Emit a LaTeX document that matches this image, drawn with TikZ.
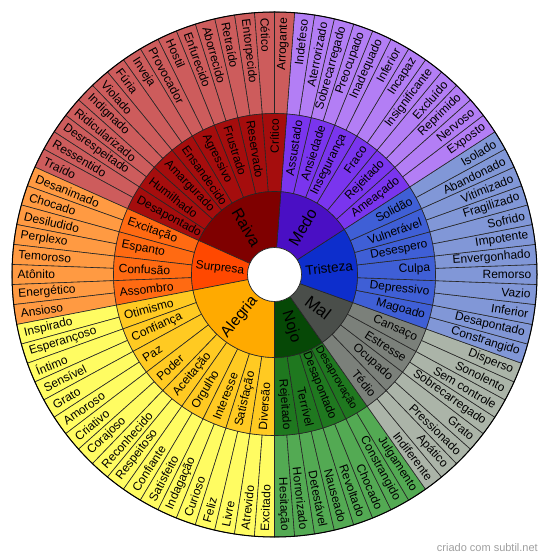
\documentclass[tikz,border=0pt]{standalone}
\usepackage{fontspec}
\setmainfont{Liberation Sans}
\definecolor{cRaiva}{HTML}{7F0000}\definecolor{mRaiva}{HTML}{A50D0D}\definecolor{oRaiva}{HTML}{CD5C5C}
\definecolor{cMedo}{HTML}{4A0FC4}\definecolor{mMedo}{HTML}{7A35EE}\definecolor{oMedo}{HTML}{B37EF5}
\definecolor{cTris}{HTML}{0D2ECC}\definecolor{mTris}{HTML}{3F5FD6}\definecolor{oTris}{HTML}{8197D7}
\definecolor{cMal}{HTML}{4A4E4A}\definecolor{mMal}{HTML}{7B807A}\definecolor{oMal}{HTML}{ABB4A8}
\definecolor{cNojo}{HTML}{064806}\definecolor{mNojo}{HTML}{1F781F}\definecolor{oNojo}{HTML}{53AA53}
\definecolor{cAleg}{HTML}{FFAA00}\definecolor{mAleg}{HTML}{FFCA22}\definecolor{oAleg}{HTML}{FFFC62}
\definecolor{cSurp}{HTML}{FF4800}\definecolor{mSurp}{HTML}{FF6A12}\definecolor{oSurp}{HTML}{FF9A42}
\newcommand\uang{4.390243902}
\newcommand\WRing[8]{%
  \foreach \w [count=\i from 0] in {#8}{%
    \pgfmathsetmacro\angA{-90+(#1+\i*#2)*\uang}%
    \pgfmathsetmacro\angB{\angA+#2*\uang}%
    \pgfmathsetmacro\angM{(\angA+\angB)/2}%
    \filldraw[seg,fill=#5] (\angA:#4) arc[start angle=\angA,end angle=\angB,radius=#4] -- (\angB:#3) arc[start angle=\angB,end angle=\angA,radius=#3] -- cycle;
    \pgfmathtruncatemacro\flip{cos(\angM)<0}%
    \ifnum\flip=1
      \node[lbl,anchor=west,rotate=\angM+180] (#7\i) at (\angM:#6) {\w};
    \else
      \node[lbl,anchor=east,rotate=\angM] (#7\i) at (\angM:#6) {\w};
    \fi
  }}
\newcommand\CoreSeg[6]{%
  \pgfmathsetmacro\angA{-90+#1*\uang}%
  \pgfmathsetmacro\angB{-90+(#1+#2)*\uang}%
  \pgfmathsetmacro\angM{(\angA+\angB)/2}%
  \filldraw[seg,fill=#3] (\angA:83) arc[start angle=\angA,end angle=\angB,radius=83] -- (\angB:27) arc[start angle=\angB,end angle=\angA,radius=27] -- cycle;
  \pgfmathtruncatemacro\flip{cos(\angM)<0}%
  \ifnum\flip=1
    \node[lbl,font=\fontsize{#5}{#5}\selectfont,rotate=\angM+180] (#6) at (\angM:55) {#4};
  \else
    \node[lbl,font=\fontsize{#5}{#5}\selectfont,rotate=\angM] (#6) at (\angM:55) {#4};
  \fi}
\begin{document}
\begin{tikzpicture}[x=1pt,y=1pt,
  seg/.style={draw=black!85,line width=0.6pt},
  lbl/.style={inner sep=0pt,font=\fontsize{12}{12}\selectfont,text=black}]
\useasboundingbox (0,0) rectangle (550,560);
\begin{scope}[shift={(274.5,285.5)}]
% outer ring
\WRing{0}{1}{161}{262.5}{oNojo}{257}{oN}{Hesitação,Horrorizado,Detestável,Nauseado,Revoltado,Chocado,Constrangido,Julgamento}
\WRing{8}{1}{161}{262.5}{oMal}{257}{oM}{Indiferente,Apático,Pressionado,Grato,Sobrecarregado,Sem controle,Sonolento,Disperso}
\WRing{16}{1}{161}{262.5}{oTris}{257}{oT}{Constrangido,Desapontado,Inferior,Vazio,Remorso,Envergonhado,Impotente,Sofrido,Fragilizado,Vitimizado,Abandonado,Isolado}
\WRing{28}{1}{161}{262.5}{oMedo}{257}{oD}{Exposto,Nervoso,Reprimido,Excluído,Insignificante,Incapaz,Inferior,Inadequado,Preocupado,Sobrecarregado,Aterrorizado,Indefeso}
\WRing{40}{1}{161}{262.5}{oRaiva}{257}{oR}{Arrogante,Cético,Entorpecido,Retraído,Aborrecido,Enfurecido,Hostil,Provocador,Inveja,Fúria,Violado,Indignado,Ridicularizado,Desrespeitado,Ressentido,Traído}
\WRing{56}{1}{161}{262.5}{oSurp}{257}{oS}{Desanimado,Chocado,Desiludido,Perplexo,Temoroso,Atônito,Energético,Ansioso}
\WRing{64}{1}{161}{262.5}{oAleg}{257}{oA}{Inspirado,Esperançoso,Íntimo,Sensível,Grato,Amoroso,Criativo,Corajoso,Reconhecido,Respeitoso,Confiante,Satisfeito,Indagação,Curioso,Feliz,Livre,Atrevido,Excitado}
% middle ring
\WRing{0}{2}{83}{161}{mNojo}{156}{mN}{Rejeitado,Terrível,Desapontado,{\fontsize{11}{11}\selectfont Desaprovação}}
\WRing{8}{2}{83}{161}{mMal}{156}{mM}{Tédio,Ocupado,Estresse,Cansaço}
\WRing{16}{2}{83}{161}{mTris}{156}{mT}{Magoado,Depressivo,Culpa,Desespero,Vulnerável,Solidão}
\WRing{28}{2}{83}{161}{mMedo}{156}{mD}{Ameaçado,Rejeitado,Fraco,Insegurança,Ansiedade,Assustado}
\WRing{40}{2}{83}{161}{mRaiva}{156}{mR}{Crítico,Reservado,Frustrado,Agressivo,Ensandecido,Amargurado,Humilhado,Desapontado}
\WRing{56}{2}{83}{161}{mSurp}{156}{mS}{Excitação,Espanto,Confusão,Assombro}
\WRing{64}{2}{83}{161}{mAleg}{156}{mA}{Otimismo,Confiança,Paz,Poder,Aceitação,Orgulho,Interesse,Satisfação,Diversão}
% core
\CoreSeg{0}{8}{cNojo}{Nojo}{15.5}{cN}
\CoreSeg{8}{8}{cMal}{Mal}{17}{cM}
\CoreSeg{16}{12}{cTris}{Tristeza}{13.5}{cT}
\CoreSeg{28}{12}{cMedo}{Medo}{16}{cD}
\CoreSeg{40}{16}{cRaiva}{Raiva}{16}{cR}
\CoreSeg{56}{8}{cSurp}{Surpresa}{12}{cS}
\CoreSeg{64}{18}{cAleg}{Alegria}{15.5}{cA}
\filldraw[seg,fill=white] (0,0) circle (27);
\draw[black,line width=1pt] (0,0) circle (262.5);
\end{scope}
\node[anchor=base east,inner sep=0pt,text=black!38,font=\fontsize{11}{11}\selectfont] (credit) at (538,9) {criado com subtil.net};
\end{tikzpicture}
\end{document}
